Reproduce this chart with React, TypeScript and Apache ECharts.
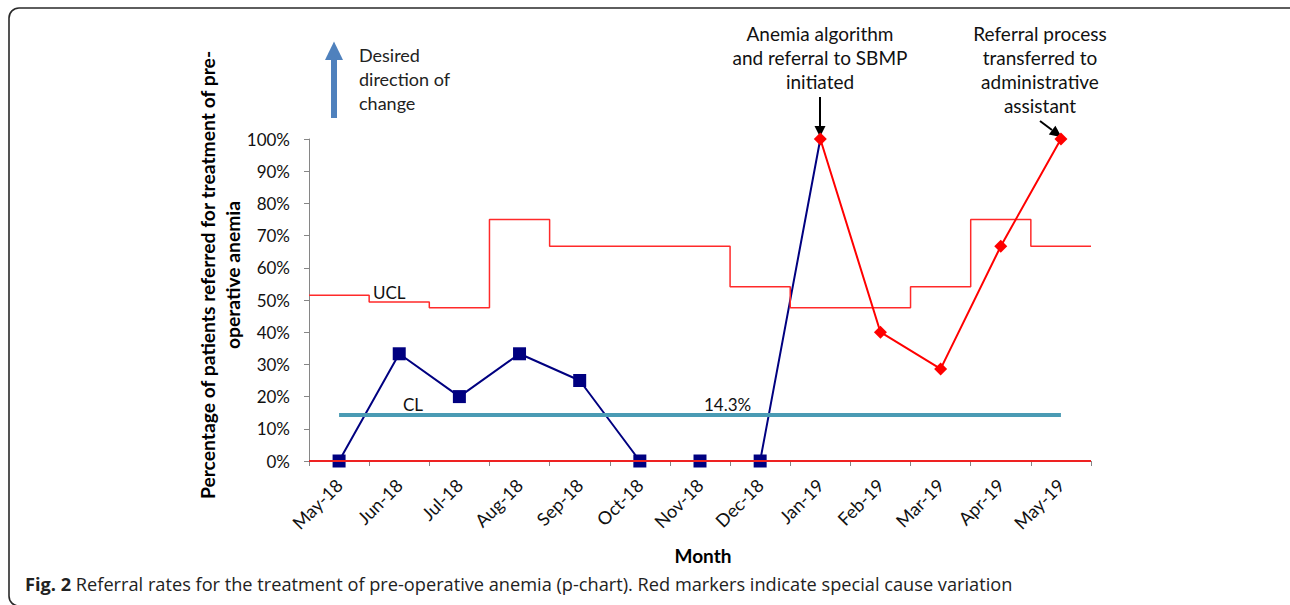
import React, { useEffect, useRef } from "react";
import * as echarts from "echarts";

const months = ["May-18", "Jun-18", "Jul-18", "Aug-18", "Sep-18", "Oct-18", "Nov-18", "Dec-18", "Jan-19", "Feb-19", "Mar-19", "Apr-19", "May-19"];
const rates = [0, 33.3, 20, 33.3, 25, 0, 0, 0, 100, 40, 28.6, 66.7, 100];
const specialCause = [false, false, false, false, false, false, false, false, true, true, true, true, true];
const ucl = [51.5, 49.4, 47.6, 75, 66.7, 66.7, 66.7, 54.1, 47.6, 47.6, 54.1, 75, 66.7];
const centerLine = 14.3;
const lcl = 0;
const yMin = 0;
const yMax = 100;
const yStep = 10;

const FONT = "Lato";

export default function App() {
  const ref = useRef<HTMLDivElement>(null);
  useEffect(() => {
    if (!ref.current) return;
    const chart = echarts.init(ref.current, undefined, { renderer: "svg" });
    const firstSpecial = specialCause.indexOf(true);
    const commonData = rates.map((v, i) =>
      i < firstSpecial ? v : i === firstSpecial ? { value: v, symbol: "none" } : null
    );
    const specialData = rates.map((v, i) => (specialCause[i] ? v : null));
    const uclData: number[][] = [];
    ucl.forEach((v, i) => {
      uclData.push([i, v]);
      uclData.push([i + 1, v]);
    });
    const lclData = [[0, lcl], [months.length, lcl]];
    const clData = months.map(() => centerLine);

    const option: any = {
      animation: false,
      backgroundColor: "#fff",
      grid: { left: 309, top: 139, width: 782, height: 322, containLabel: false },
      xAxis: [
        {
          type: "category",
          data: months,
          boundaryGap: true,
          axisLine: { show: true, lineStyle: { color: "#868686", width: 1 } },
          axisTick: { show: true, interval: 0, length: 5, lineStyle: { color: "#868686" } },
          axisLabel: { interval: 0, rotate: 45, margin: 21, fontSize: 18, color: "#111", fontFamily: FONT },
          splitLine: { show: false },
        },
        { type: "value", min: 0, max: months.length, show: false },
      ],
      yAxis: {
        type: "value",
        min: yMin,
        max: yMax,
        interval: yStep,
        axisLine: { show: true, lineStyle: { color: "#868686", width: 1 } },
        axisTick: { show: true, length: 5, lineStyle: { color: "#868686" } },
        axisLabel: { formatter: "{value}%", fontSize: 17, margin: 19, color: "#111", fontFamily: FONT },
        splitLine: { show: false },
      },
      series: [
        {
          name: "Rate",
          type: "line",
          data: commonData,
          z: 2,
          symbol: "rect",
          symbolSize: 13,
          showAllSymbol: true,
          connectNulls: false,
          lineStyle: { color: "#000080", width: 2 },
          itemStyle: { color: "#000080" },
        },
        {
          name: "UCL",
          type: "line",
          xAxisIndex: 1,
          data: uclData,
          z: 3,
          symbol: "none",
          lineStyle: { color: "#ff2a2a", width: 1.5 },
        },
        {
          name: "CL",
          type: "line",
          data: clData,
          z: 4,
          symbol: "none",
          lineStyle: { color: "#4a9bb4", width: 4 },
        },
        {
          name: "LCL",
          type: "line",
          xAxisIndex: 1,
          data: lclData,
          z: 5,
          symbol: "none",
          lineStyle: { color: "#ee2222", width: 2 },
        },
        {
          name: "Special cause",
          type: "line",
          data: specialData,
          z: 6,
          symbol: "diamond",
          symbolSize: 13,
          showAllSymbol: true,
          lineStyle: { color: "#ff0000", width: 2 },
          itemStyle: { color: "#ff0000" },
        },
      ],
      graphic: [
        {
          type: "rect",
          shape: { x: 9, y: 8, width: 1300, height: 598, r: 10 },
          style: { fill: "none", stroke: "#2a2a2a", lineWidth: 1.6 },
          silent: true,
        },
        // desired direction arrow
        { type: "rect", shape: { x: 331, y: 58, width: 6, height: 60 }, style: { fill: "#4f81bd" } },
        { type: "polygon", shape: { points: [[325, 60], [343, 60], [334, 41.5]] }, style: { fill: "#4f81bd" } },
        {
          type: "text",
          x: 359,
          y: 79,
          style: {
            text: "Desired\ndirection of\nchange",
            fontSize: 18,
            lineHeight: 24,
            fontFamily: FONT,
            fill: "#222",
            textVerticalAlign: "middle",
            textAlign: "left",
          },
        },
        // annotations
        {
          type: "text",
          x: 820,
          y: 57,
          style: {
            text: "Anemia algorithm\nand referral to SBMP\ninitiated",
            fontSize: 19,
            lineHeight: 24,
            fontFamily: FONT,
            fill: "#111",
            textAlign: "center",
            textVerticalAlign: "middle",
          },
        },
        { type: "line", shape: { x1: 820, y1: 97, x2: 820, y2: 127 }, style: { stroke: "#000", lineWidth: 2 } },
        { type: "polygon", shape: { points: [[814.5, 126], [825.5, 126], [820, 137]] }, style: { fill: "#000" } },
        {
          type: "text",
          x: 1040,
          y: 69,
          style: {
            text: "Referral process\ntransferred to\nadministrative\nassistant",
            fontSize: 19,
            lineHeight: 24,
            fontFamily: FONT,
            fill: "#111",
            textAlign: "center",
            textVerticalAlign: "middle",
          },
        },
        { type: "line", shape: { x1: 1040, y1: 121, x2: 1052, y2: 130 }, style: { stroke: "#000", lineWidth: 2 } },
        { type: "polygon", shape: { points: [[1061.7, 137.3], [1048.8, 134.5], [1055.4, 125.7]] }, style: { fill: "#000" } },
        // line labels
        { type: "text", x: 373, y: 292, style: { text: "UCL", fontSize: 17, fontFamily: FONT, fill: "#111", textVerticalAlign: "middle" } },
        { type: "text", x: 403, y: 404, style: { text: "CL", fontSize: 17, fontFamily: FONT, fill: "#111", textVerticalAlign: "middle" } },
        { type: "text", x: 704, y: 404, style: { text: "14.3%", fontSize: 17, fontFamily: FONT, fill: "#111", textVerticalAlign: "middle" } },
        // y axis title
        {
          type: "text",
          x: 219.5,
          y: 275,
          rotation: Math.PI / 2,
          style: {
            text: "Percentage of patients referred for treatment of pre-\noperative anemia",
            fontSize: 19.3,
            fontWeight: "bold",
            lineHeight: 25,
            fontFamily: FONT,
            fill: "#000",
            textAlign: "center",
            textVerticalAlign: "middle",
          },
        },
        // x axis title
        {
          type: "text",
          x: 703,
          y: 555,
          style: { text: "Month", fontSize: 19, fontWeight: "bold", fontFamily: FONT, fill: "#000", textAlign: "center", textVerticalAlign: "middle" },
        },
        // caption
        {
          type: "text",
          x: 25,
          y: 584,
          style: {
            text: "{b|Fig. 2} Referral rates for the treatment of pre-operative anemia (p-chart). Red markers indicate special cause variation",
            fontSize: 18.2,
            fontFamily: "Open Sans",
            fill: "#222",
            textVerticalAlign: "middle",
            rich: { b: { fontWeight: "bold", fontSize: 18.2, fontFamily: "Open Sans", fill: "#222" } },
          },
        },
      ],
    };
    chart.setOption(option);
    return () => chart.dispose();
  }, []);
  return <div ref={ref} style={{ position: "fixed", left: 0, top: 0, width: 1290, height: 605 }} />;
}
